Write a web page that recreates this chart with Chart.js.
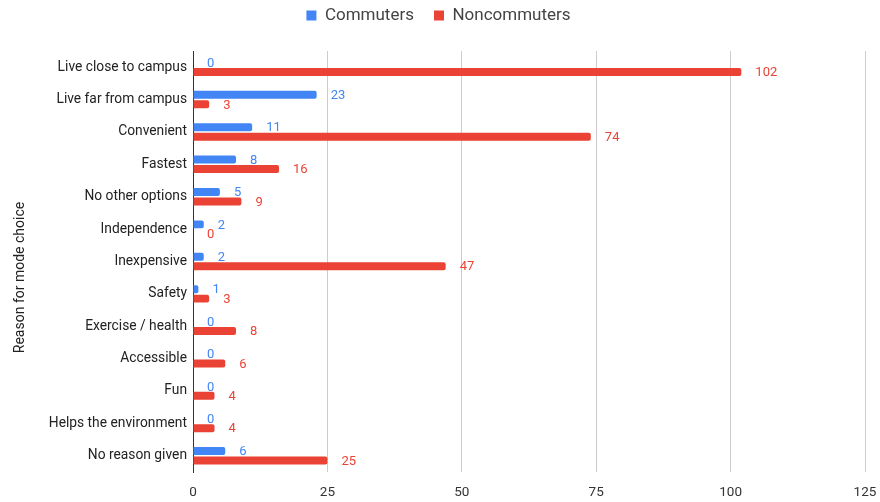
<!DOCTYPE html>
<html>
<head>
<meta charset="utf-8">
<script src="https://cdn.jsdelivr.net/npm/chart.js@4/dist/chart.umd.min.js"></script>
<style>
  html, body { margin: 0; padding: 0; background: #fff; }
  #wrap { width: 880px; height: 502px; }
</style>
</head>
<body>
<div id="wrap"><canvas id="chartCanvas" width="880" height="502"></canvas></div>
<script>
const categories = [
  "Live close to campus", "Live far from campus", "Convenient", "Fastest",
  "No other options", "Independence", "Inexpensive", "Safety",
  "Exercise / health", "Accessible", "Fun", "Helps the environment", "No reason given"
];
const commuters = [0, 23, 11, 8, 5, 2, 2, 1, 0, 0, 0, 0, 6];
const noncommuters = [102, 3, 74, 16, 9, 0, 47, 3, 8, 6, 4, 4, 25];
const xTicks = [0, 25, 50, 75, 100, 125];
const yTitle = "Reason for mode choice";

const BLUE = "#4285f4";
const RED = "#ea4335";
const FONT = "Roboto, 'Liberation Sans', sans-serif";

// value labels to the right of each bar
const valueLabels = {
  id: "valueLabels",
  afterDatasetsDraw(chart) {
    const ctx = chart.ctx;
    ctx.save();
    ctx.font = "13px " + FONT;
    ctx.textAlign = "left";
    ctx.textBaseline = "middle";
    chart.data.datasets.forEach((ds, i) => {
      const meta = chart.getDatasetMeta(i);
      meta.data.forEach((bar, j) => {
        ctx.fillStyle = ds.backgroundColor;
        ctx.fillText(String(ds.data[j]), bar.x + 14, bar.y + 1);
      });
    });
    ctx.restore();
  }
};

// vertical axis title, centred a little lower than the plot area
const sideTitle = {
  id: "sideTitle",
  afterDraw(chart) {
    const ctx = chart.ctx;
    const mid = (chart.chartArea.top + chart.height) / 2 + 1;
    ctx.save();
    ctx.translate(20, mid);
    ctx.rotate(-Math.PI / 2);
    ctx.font = "14px " + FONT;
    ctx.fillStyle = "#222";
    ctx.textAlign = "center";
    ctx.textBaseline = "middle";
    ctx.fillText(yTitle, 0, 0);
    ctx.restore();
  }
};

// fixed legend band height, legend drawn a bit higher
const legendGap = {
  id: "legendGap",
  beforeInit(chart) {
    const lg = chart.legend;
    const fit = lg.fit;
    lg.fit = function () {
      fit.call(this);
      this.height = 51;
    };
    const draw = lg.draw;
    lg.draw = function () {
      const c = this.ctx;
      c.save();
      c.translate(0, -13);
      draw.call(this);
      c.restore();
    };
  }
};

const ctx = document.getElementById("chartCanvas").getContext("2d");
const chart = new Chart(ctx, {
  type: "bar",
  data: {
    labels: categories,
    datasets: [
      { label: "Commuters", data: commuters, backgroundColor: BLUE, borderRadius: 2, borderSkipped: "start" },
      { label: "Noncommuters", data: noncommuters, backgroundColor: RED, borderRadius: 2, borderSkipped: "start" }
    ]
  },
  options: {
    indexAxis: "y",
    responsive: false,
    animation: false,
    categoryPercentage: 0.586,
    barPercentage: 0.84,
    layout: { padding: { left: 12, right: 15, top: 0, bottom: 0 } },
    plugins: {
      tooltip: { enabled: false },
      legend: {
        position: "top",
        labels: {
          boxWidth: 10,
          boxHeight: 10,
          padding: 20,
          color: "#444",
          font: { family: FONT, size: 17 }
        }
      }
    },
    scales: {
      x: {
        min: 0,
        max: 125,
        afterBuildTicks(scale) {
          scale.ticks = xTicks.map(v => ({ value: v }));
        },
        afterFit(scale) {
          scale.height = 30;
          scale.paddingLeft = 0;
          scale.paddingRight = 0;
        },
        grid: { color: "#cccccc", drawTicks: false },
        border: { display: false },
        ticks: { color: "#333", padding: 13, font: { family: FONT, size: 13.5 } }
      },
      y: {
        afterFit(scale) { scale.width = 181; },
        grid: { display: false, drawTicks: false },
        border: { display: true, color: "#333", width: 1 },
        ticks: { color: "#222", padding: 6, font: { family: FONT, size: 13.8 } }
      }
    }
  },
  plugins: [valueLabels, sideTitle, legendGap]
});
</script>
</body>
</html>
